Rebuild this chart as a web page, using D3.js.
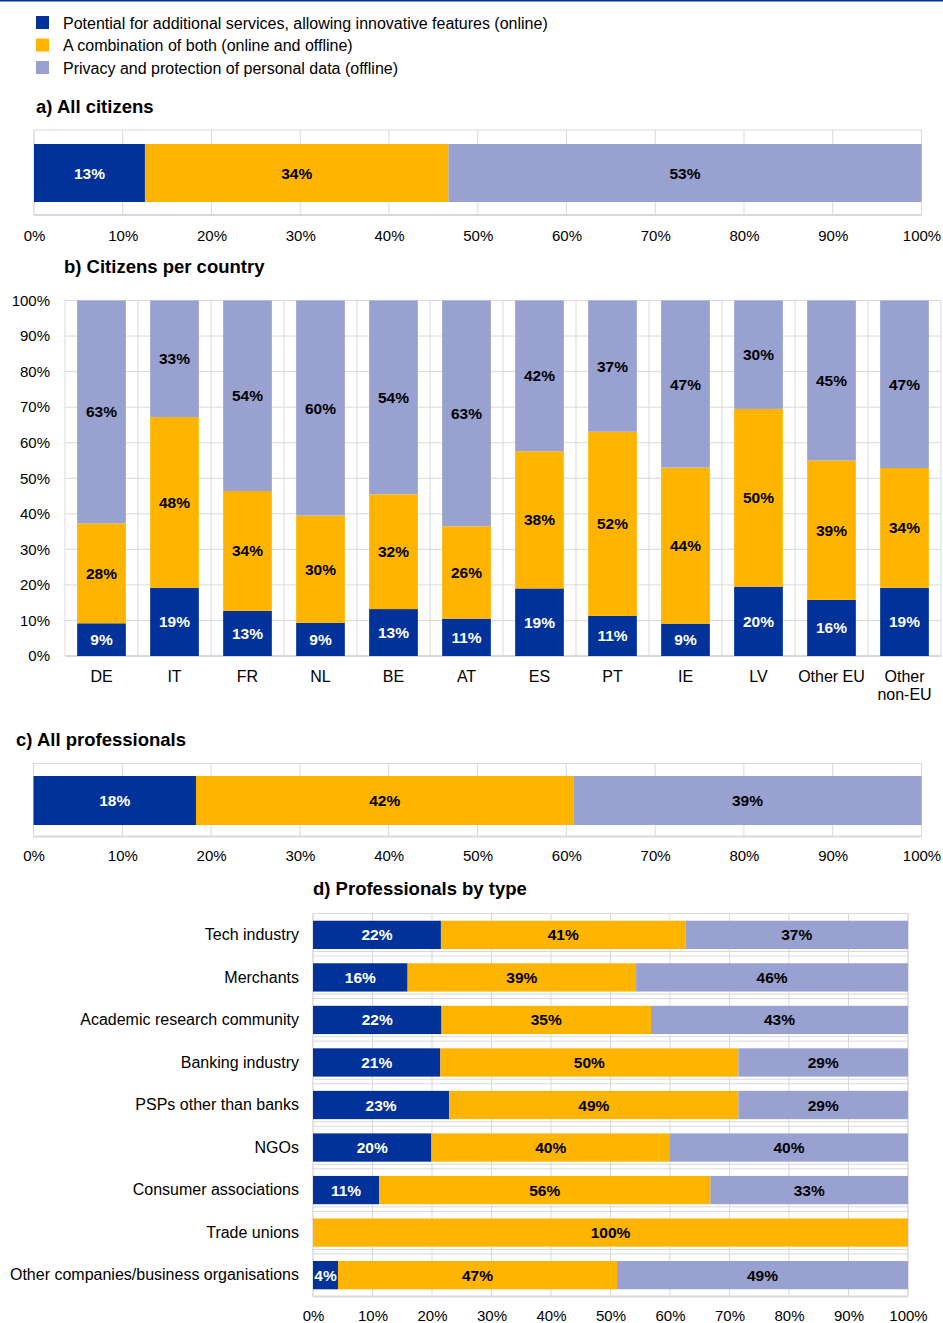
<!DOCTYPE html>
<html>
<head>
<meta charset="utf-8">
<script src="https://cdn.jsdelivr.net/npm/d3@7"></script>
<style>
html,body{margin:0;padding:0;background:#fff;}
svg{display:block;font-family:"Liberation Sans",Arial,sans-serif;}
</style>
</head>
<body>
<svg id="chart" width="943" height="1323"></svg>
<script>
// ---------- DATA ----------
const seriesNames = [
  "Potential for additional services, allowing innovative features (online)",
  "A combination of both (online and offline)",
  "Privacy and protection of personal data (offline)"
];
const seriesColors = ["#003299", "#FFB400", "#98A1D0"];

// a) All citizens
const allCitizens = [12.5, 34.2, 53.3];
const allCitizensLabels = ["13%", "34%", "53%"];

// b) Citizens per country
const countries = ["DE","IT","FR","NL","BE","AT","ES","PT","IE","LV","Other EU","Other non-EU"];
const countryOnline  = [9.2, 19.2, 12.7, 9.3, 13.2, 10.5, 19.0, 11.3, 9.1, 19.5, 15.8, 19.2];
const countryBoth    = [28.1, 48.0, 33.7, 30.2, 32.3, 26.0, 38.6, 51.8, 43.9, 50.0, 39.2, 33.7];
const countryOffline = [62.7, 32.8, 53.6, 60.5, 54.5, 63.5, 42.4, 36.9, 47.0, 30.5, 45.0, 47.1];
const countryOnlineLbl  = ["9%","19%","13%","9%","13%","11%","19%","11%","9%","20%","16%","19%"];
const countryBothLbl    = ["28%","48%","34%","30%","32%","26%","38%","52%","44%","50%","39%","34%"];
const countryOfflineLbl = ["63%","33%","54%","60%","54%","63%","42%","37%","47%","30%","45%","47%"];

// c) All professionals
const allProfessionals = [18.3, 42.5, 39.2];
const allProfessionalsLabels = ["18%", "42%", "39%"];

// d) Professionals by type
const profTypes = ["Tech industry","Merchants","Academic research community","Banking industry",
  "PSPs other than banks","NGOs","Consumer associations","Trade unions",
  "Other companies/business organisations"];
const profOnline  = [21.5, 15.9, 21.6, 21.4, 22.9, 19.9, 11.1, 0, 4.2];
const profBoth    = [41.1, 38.4, 35.2, 50.1, 48.6, 40.1, 55.7, 100, 46.9];
const profOffline = [37.4, 45.7, 43.2, 28.5, 28.5, 40.0, 33.2, 0, 48.9];
const profOnlineLbl  = ["22%","16%","22%","21%","23%","20%","11%","","4%"];
const profBothLbl    = ["41%","39%","35%","50%","49%","40%","56%","100%","47%"];
const profOfflineLbl = ["37%","46%","43%","29%","29%","40%","33%","","49%"];

const pctTicks = [0,10,20,30,40,50,60,70,80,90,100];
const pctTickLabels = ["0%","10%","20%","30%","40%","50%","60%","70%","80%","90%","100%"];

// ---------- DRAW ----------
const svg = d3.select("#chart");
const GRID = "#d9d9d9";
const textColor = "#000";
const FONT = "Liberation Sans, Arial, sans-serif";
const LBL = 15.5;   // data labels
const CAT = 16;     // category / legend text
const TICK = 15;    // percentage ticks

// top rule
svg.append("line").attr("x1",0).attr("x2",943).attr("y1",0.75).attr("y2",0.75)
  .attr("stroke","#003299").attr("stroke-width",1.5);

// legend
const legend = svg.append("g");
seriesNames.forEach((name,i)=>{
  const y = 16 + i*22.5;
  legend.append("rect").attr("x",36).attr("y",y).attr("width",13).attr("height",13).attr("fill",seriesColors[i]);
  legend.append("text").attr("x",63).attr("y",y+12.5).attr("font-size",CAT).attr("fill",textColor).text(name);
});

function title(x,y,t){
  svg.append("text").attr("x",x).attr("y",y).attr("font-size",18.5).attr("font-weight","bold")
    .attr("fill",textColor).text(t);
}

// Horizontal single stacked bar (panels a & c)
function singleBar(vals, lbls, box, barTop, barBot, tickY){
  const x = d3.scaleLinear().domain([0,100]).range([box.x0, box.x1]);
  const g = svg.append("g");
  g.selectAll("line.v").data(pctTicks).join("line")
    .attr("x1",d=>x(d)).attr("x2",d=>x(d)).attr("y1",box.y0).attr("y2",box.y1)
    .attr("stroke",GRID).attr("stroke-width",1);
  g.append("rect").attr("x",box.x0).attr("y",box.y0).attr("width",box.x1-box.x0).attr("height",box.y1-box.y0)
    .attr("fill","none").attr("stroke",GRID).attr("stroke-width",1);
  g.append("line").attr("x1",box.x0).attr("x2",box.x1).attr("y1",box.y1).attr("y2",box.y1)
    .attr("stroke",GRID).attr("stroke-width",2);
  let cum = 0;
  const segs = vals.map((v,i)=>{const s={i,start:cum,end:cum+v,lbl:lbls[i]}; cum+=v; return s;});
  g.selectAll("rect.seg").data(segs).join("rect")
    .attr("x",d=>x(d.start)).attr("width",d=>x(d.end)-x(d.start))
    .attr("y",barTop).attr("height",barBot-barTop).attr("fill",d=>seriesColors[d.i]);
  g.selectAll("text.lbl").data(segs).join("text")
    .attr("x",d=>(x(d.start)+x(d.end))/2).attr("y",(barTop+barBot)/2+5.5)
    .attr("text-anchor","middle").attr("font-size",LBL).attr("font-weight","bold")
    .attr("fill",d=>d.i===0?"#fff":"#000").text(d=>d.lbl);
  const ax = d3.axisBottom(x).tickValues(pctTicks).tickFormat((d,i)=>pctTickLabels[i]).tickSize(0).tickPadding(0);
  const ag = g.append("g").attr("transform",`translate(0,${tickY})`).call(ax);
  ag.select(".domain").remove();
  ag.selectAll("text").attr("font-size",TICK).attr("fill",textColor).attr("font-family",FONT).attr("dy","0");
}

// a)
title(36,113,"a) All citizens");
singleBar(allCitizens, allCitizensLabels, {x0:34,x1:921.5,y0:130,y1:215}, 144, 202, 240.5);

// b)
title(64,273,"b) Citizens per country");
(function(){
  const box = {x0:65, x1:941, y0:300.5, y1:656};
  const x = d3.scaleBand().domain(countries).range([box.x0, box.x1]).paddingInner(0).paddingOuter(0);
  const y = d3.scaleLinear().domain([0,100]).range([box.y1, box.y0]);
  const g = svg.append("g");
  g.selectAll("line.h").data(pctTicks).join("line")
    .attr("x1",box.x0).attr("x2",box.x1).attr("y1",d=>y(d)).attr("y2",d=>y(d))
    .attr("stroke",GRID).attr("stroke-width",1);
  const bounds = countries.map(c=>x(c)).concat([box.x1]);
  g.selectAll("line.v").data(bounds).join("line")
    .attr("x1",d=>d).attr("x2",d=>d).attr("y1",box.y0).attr("y2",box.y1)
    .attr("stroke",GRID).attr("stroke-width",1);
  g.append("line").attr("x1",box.x0).attr("x2",box.x1).attr("y1",box.y1).attr("y2",box.y1)
    .attr("stroke",GRID).attr("stroke-width",2);
  const bw = x.bandwidth()*0.667;
  const rows = countries.map((c,k)=>{
    const vals=[countryOnline[k],countryBoth[k],countryOffline[k]];
    const lbls=[countryOnlineLbl[k],countryBothLbl[k],countryOfflineLbl[k]];
    let cum=0; return vals.map((v,i)=>{const s={c,i,start:cum,end:cum+v,lbl:lbls[i]}; cum+=v; return s;});
  }).flat();
  g.selectAll("rect.seg").data(rows).join("rect")
    .attr("x",d=>x(d.c)+(x.bandwidth()-bw)/2).attr("width",bw)
    .attr("y",d=>y(Math.min(d.end,100))).attr("height",d=>y(d.start)-y(Math.min(d.end,100)))
    .attr("fill",d=>seriesColors[d.i]);
  g.selectAll("text.lbl").data(rows).join("text")
    .attr("x",d=>x(d.c)+x.bandwidth()/2).attr("y",d=>(y(d.start)+y(Math.min(d.end,100)))/2+5.5)
    .attr("text-anchor","middle").attr("font-size",LBL).attr("font-weight","bold")
    .attr("fill",d=>d.i===0?"#fff":"#000").text(d=>d.lbl);
  const ya = d3.axisLeft(y).tickValues(pctTicks).tickFormat((d,i)=>pctTickLabels[i]).tickSize(0).tickPadding(15);
  const yg = g.append("g").attr("transform",`translate(${box.x0},0)`).call(ya);
  yg.select(".domain").remove();
  yg.selectAll("text").attr("font-size",TICK).attr("fill",textColor).attr("font-family",FONT);
  const xa = d3.axisBottom(x).tickSize(0).tickPadding(0).tickFormat("");
  const xg = g.append("g").attr("transform",`translate(0,${box.y1})`).call(xa);
  xg.select(".domain").remove();
  xg.selectAll(".tick").each(function(d){
    const t = d3.select(this).append("text").attr("font-size",CAT).attr("fill",textColor)
      .attr("text-anchor","middle").attr("font-family",FONT);
    const parts = d==="Other non-EU" ? ["Other","non-EU"] : [d];
    parts.forEach((p,j)=>t.append("tspan").attr("x",0).attr("y",25.5+j*18).text(p));
  });
})();

// c)
title(16,746,"c) All professionals");
singleBar(allProfessionals, allProfessionalsLabels, {x0:33.5,x1:921.5,y0:763.5,y1:836.5}, 776, 825, 861);

// d)
title(313,895,"d) Professionals by type");
(function(){
  const box = {x0:313, x1:908, y0:913.5, y1:1296.5};
  const x = d3.scaleLinear().domain([0,100]).range([box.x0, box.x1]);
  const y = d3.scaleBand().domain(profTypes).range([box.y0, box.y1]).paddingInner(0.335).paddingOuter(0.17);
  const g = svg.append("g");
  g.selectAll("line.v").data(pctTicks).join("line")
    .attr("x1",d=>x(d)).attr("x2",d=>x(d)).attr("y1",box.y0).attr("y2",box.y1)
    .attr("stroke",GRID).attr("stroke-width",1);
  const step = (box.y1-box.y0)/profTypes.length;
  const hl = d3.range(1,profTypes.length).flatMap(k=>[box.y0+k*step-4.5, box.y0+k*step]);
  g.selectAll("line.h").data(hl).join("line")
    .attr("x1",box.x0).attr("x2",box.x1).attr("y1",d=>d).attr("y2",d=>d)
    .attr("stroke",GRID).attr("stroke-width",1);
  g.append("rect").attr("x",box.x0).attr("y",box.y0).attr("width",box.x1-box.x0).attr("height",box.y1-box.y0)
    .attr("fill","none").attr("stroke",GRID).attr("stroke-width",1);
  g.append("line").attr("x1",box.x0).attr("x2",box.x1).attr("y1",box.y1).attr("y2",box.y1)
    .attr("stroke",GRID).attr("stroke-width",2);
  const rows = profTypes.map((c,k)=>{
    const vals=[profOnline[k],profBoth[k],profOffline[k]];
    const lbls=[profOnlineLbl[k],profBothLbl[k],profOfflineLbl[k]];
    let cum=0; return vals.map((v,i)=>{const s={c,i,start:cum,end:Math.min(cum+v,100),lbl:lbls[i]}; cum+=v; return s;});
  }).flat().filter(d=>d.end>d.start);
  g.selectAll("rect.seg").data(rows).join("rect")
    .attr("x",d=>x(d.start)).attr("width",d=>x(d.end)-x(d.start))
    .attr("y",d=>y(d.c)).attr("height",y.bandwidth()).attr("fill",d=>seriesColors[d.i]);
  g.selectAll("text.lbl").data(rows).join("text")
    .attr("x",d=>(x(d.start)+x(d.end))/2).attr("y",d=>y(d.c)+y.bandwidth()/2+5.5)
    .attr("text-anchor","middle").attr("font-size",LBL).attr("font-weight","bold")
    .attr("fill",d=>d.i===0?"#fff":"#000").text(d=>d.lbl);
  const ya = d3.axisLeft(y).tickSize(0).tickPadding(14);
  const yg = g.append("g").attr("transform",`translate(${box.x0},0)`).call(ya);
  yg.select(".domain").remove();
  yg.selectAll("text").attr("font-size",CAT).attr("fill",textColor).attr("font-family",FONT);
  const xa = d3.axisBottom(x).tickValues(pctTicks).tickFormat((d,i)=>pctTickLabels[i]).tickSize(0).tickPadding(0);
  const xg = g.append("g").attr("transform",`translate(0,1320.5)`).call(xa);
  xg.select(".domain").remove();
  xg.selectAll("text").attr("font-size",TICK).attr("fill",textColor).attr("font-family",FONT).attr("dy","0");
})();
</script>
</body>
</html>
